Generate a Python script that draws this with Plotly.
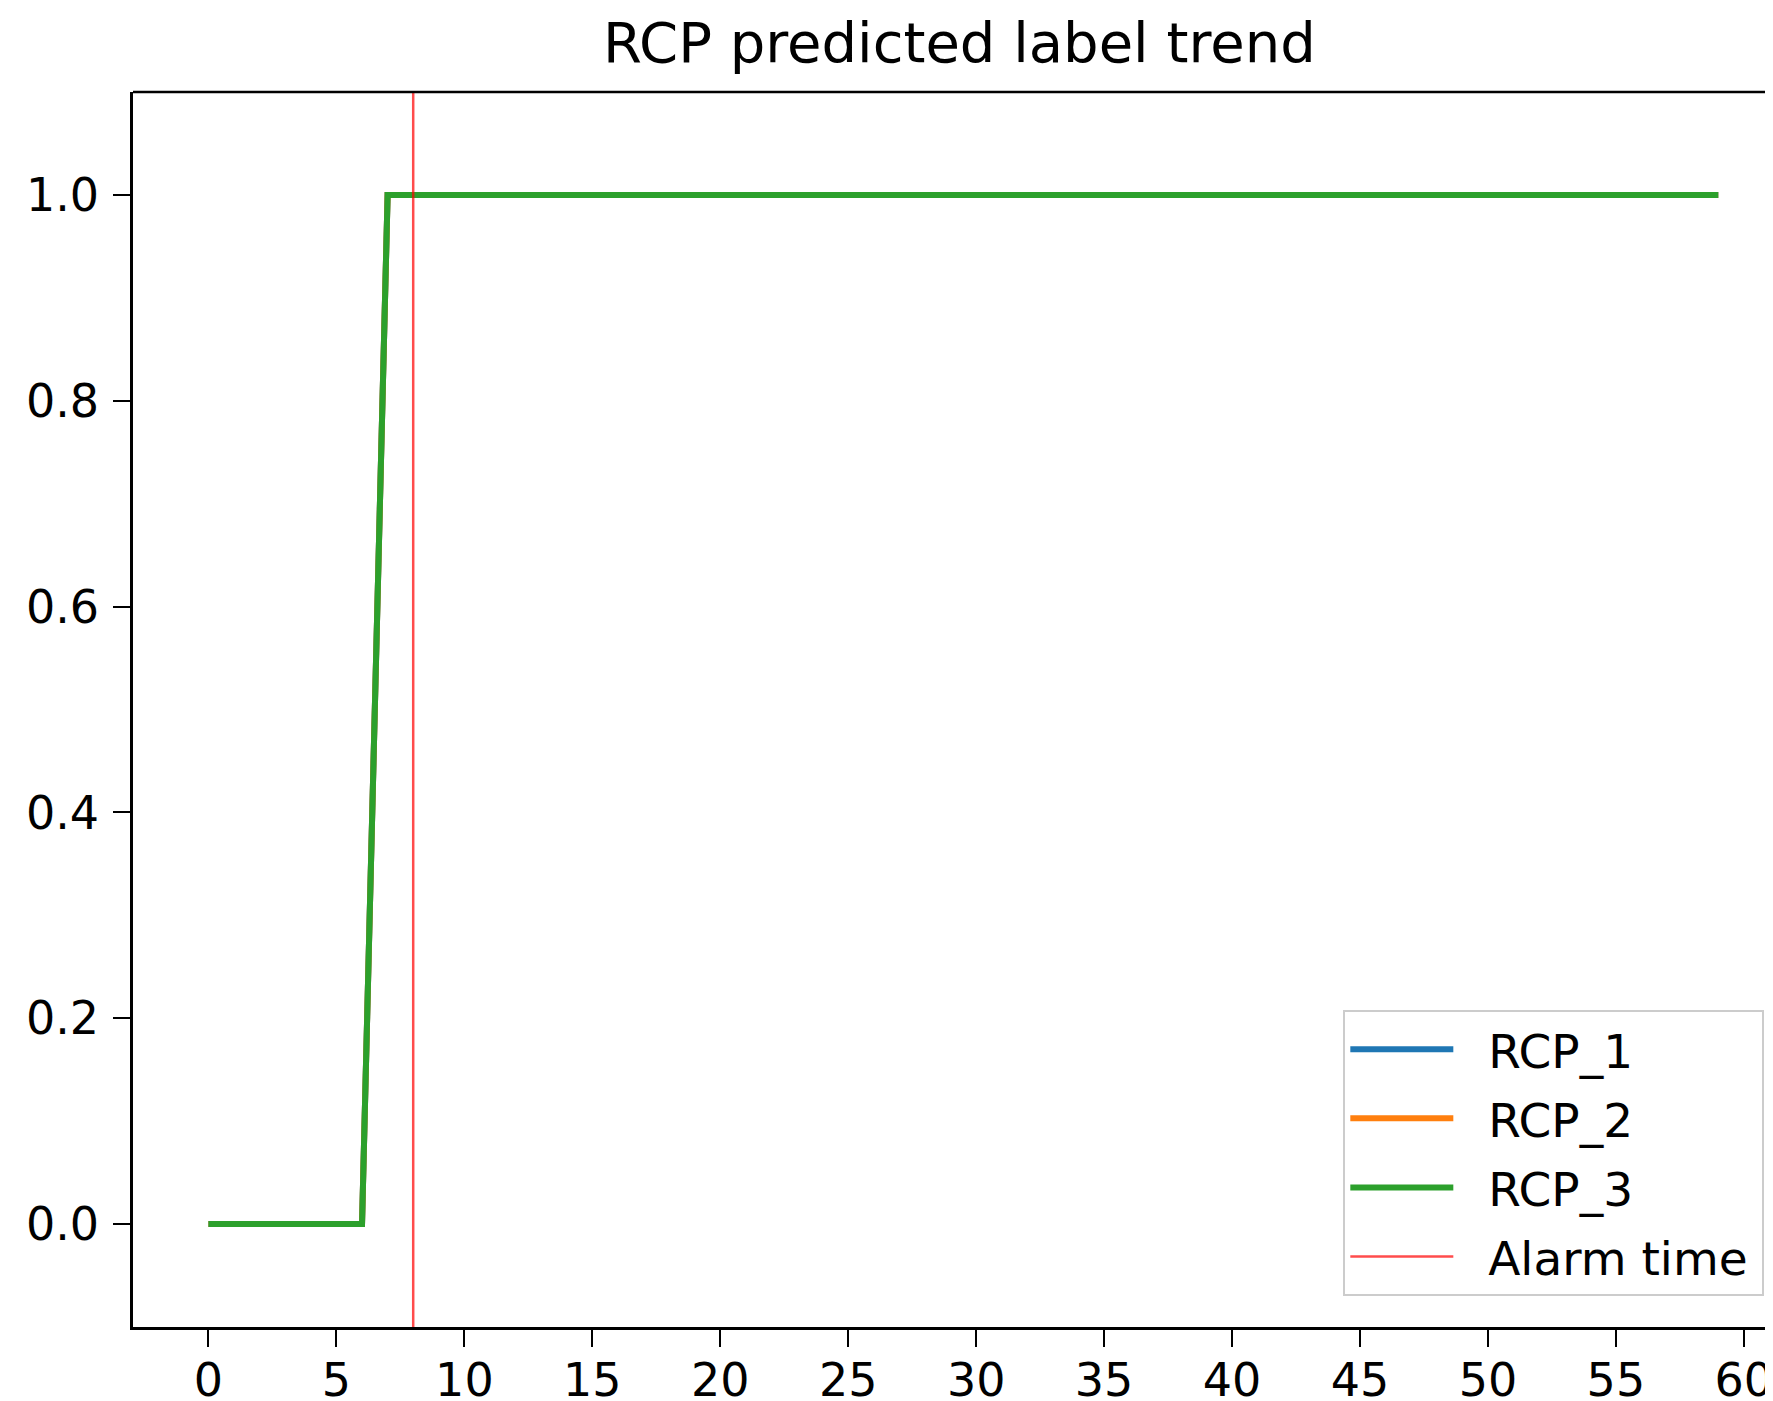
import plotly.graph_objects as go

time_steps = list(range(60))
rcp_1 = [0]*7 + [1]*53
rcp_2 = [0]*7 + [1]*53
rcp_3 = [0]*7 + [1]*53
alarm_time = 8
series_names = ["RCP_1", "RCP_2", "RCP_3"]
series_colors = ["#1f77b4", "#ff7f0e", "#2ca02c"]
x_ticks = list(range(0, 61, 5))
y_ticks = [0.0, 0.2, 0.4, 0.6, 0.8, 1.0]

FONT = "DejaVu Sans"
PAD = "\u00a0\u00a0"
fig = go.Figure()
for name, vals, col in zip(series_names, [rcp_1, rcp_2, rcp_3], series_colors):
    fig.add_trace(go.Scatter(x=time_steps, y=vals, mode="lines", name=PAD + name,
                             line=dict(color=col, width=6), legendgroup=name))
fig.add_trace(go.Scatter(x=[alarm_time, alarm_time], y=[-0.1, 1.1], mode="lines",
                         name=PAD + "Alarm time\u2009", line=dict(color="rgba(255,0,0,0.7)", width=2.5),
                         legendgroup="alarm"))

fig.update_layout(
    width=1765, height=1393,
    margin=dict(l=125, r=0, t=84, b=74),
    paper_bgcolor="white", plot_bgcolor="white",
    font=dict(family=FONT, size=46, color="black"),
    title=dict(text="RCP predicted label trend", x=0.539, xanchor="center",
               y=1 - 34/1393, yanchor="middle", font=dict(size=56, family=FONT),
               automargin=False),
    showlegend=True,
    legend=dict(x=0.738, y=0.025, xanchor="left", yanchor="bottom",
                bgcolor="white", bordercolor="#cccccc", borderwidth=2,
                font=dict(size=47, family=FONT), itemwidth=103,
                tracegroupgap=5),
    shapes=[dict(type="line", xref="paper", yref="paper", x0=0, x1=1, y0=1, y1=1,
                 line=dict(color="black", width=2.5))],
)
fig.update_xaxes(range=[-2.95, 61.14], tickvals=x_ticks, showgrid=False, zeroline=False,
                 showline=True, linecolor="black", linewidth=2.5, ticks="outside",
                 ticklen=17, tickwidth=2, tickcolor="black", ticklabelstandoff=-6,
                 ticklabeloverflow="allow", automargin=False)
fig.update_yaxes(range=[-0.1, 1.1], tickvals=y_ticks, tickformat=".1f", showgrid=False,
                 zeroline=False, showline=True, linecolor="black", linewidth=2.5,
                 ticks="outside", ticklen=17, tickwidth=2, tickcolor="black",
                 ticklabelstandoff=5, automargin=False)
fig.write_html("out.html")
